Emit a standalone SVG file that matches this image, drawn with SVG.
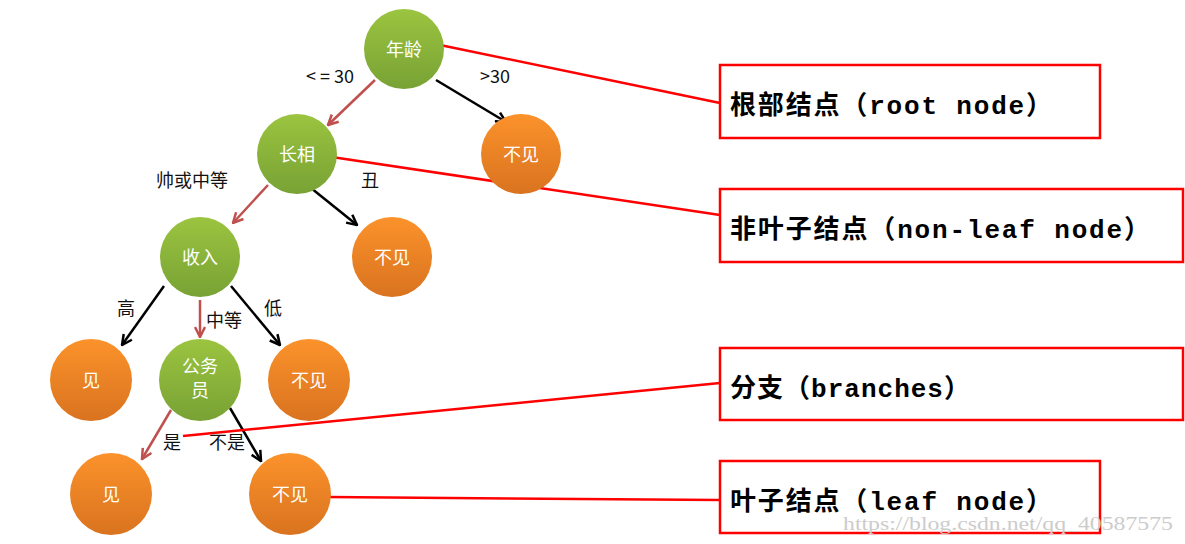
<svg xmlns="http://www.w3.org/2000/svg" width="1185" height="544" viewBox="0 0 1185 544">
<style>
.g{fill:url(#gg)}.o{fill:url(#og)}
.nt{font-family:"Noto Sans CJK SC",sans-serif;font-size:18px;fill:#fff;text-anchor:middle}
.lb{font-family:"Noto Sans CJK SC",sans-serif;font-size:18px;fill:#111;text-anchor:middle}
.bx{fill:#fff;stroke:#f00;stroke-width:2.5}
.bt{font-family:"Liberation Mono","Noto Sans CJK SC",monospace;font-size:26px;font-weight:bold;fill:#000}
.rl{stroke:#f00;stroke-width:2.5;fill:none}
.ar{stroke:#000;stroke-width:2.5;fill:none;marker-end:url(#mb)}
.ar2{stroke:#c0504d;stroke-width:2.5;fill:none;marker-end:url(#mr)}
</style>
<defs>
<linearGradient id="gg" x1="0" y1="0" x2="0" y2="1"><stop offset="0" stop-color="#9bc440"/><stop offset="1" stop-color="#78a234"/></linearGradient>
<linearGradient id="og" x1="0" y1="0" x2="0" y2="1"><stop offset="0" stop-color="#fb922b"/><stop offset="1" stop-color="#d9731f"/></linearGradient>
<marker id="mb" viewBox="0 0 10 10" refX="9" refY="5" markerWidth="5" markerHeight="5" orient="auto"><path d="M1,1L9,5L1,9" fill="none" stroke="#000" stroke-width="2"/></marker>
<marker id="mr" viewBox="0 0 10 10" refX="9" refY="5" markerWidth="5" markerHeight="5" orient="auto"><path d="M1,1L9,5L1,9" fill="none" stroke="#c0504d" stroke-width="2"/></marker>
</defs>
<g id="connectors">
<line class="ar2" x1="375" y1="80" x2="328" y2="125"/>
<line class="ar" x1="436" y1="80" x2="506" y2="122"/>
<line class="ar2" x1="268" y1="185" x2="233" y2="223"/>
<line class="ar" x1="306" y1="184" x2="357" y2="225"/>
<line class="ar" x1="164" y1="286" x2="122" y2="345"/>
<line class="ar2" x1="200" y1="300" x2="200" y2="337"/>
<line class="ar" x1="231" y1="286" x2="280" y2="345"/>
<line class="ar2" x1="171" y1="410" x2="142" y2="459"/>
<line class="ar" x1="230" y1="408" x2="261" y2="461"/>
<line class="rl" x1="440" y1="45" x2="720" y2="103"/>
<line class="rl" x1="325" y1="156" x2="720" y2="215"/>
<line class="rl" x1="183" y1="436" x2="720" y2="383"/>
<line class="rl" x1="328" y1="497" x2="720" y2="500"/>
</g>
<g class="lb">
<text x="330" y="83">&lt; = 30</text><text x="495" y="83">&gt;30</text>
<text x="192" y="187">帅或中等</text><text x="370" y="187">丑</text>
<text x="126" y="315">高</text><text x="224" y="327">中等</text><text x="273" y="315">低</text>
<text x="172" y="449">是</text><text x="227" y="449">不是</text>
</g>
<g id="n1"><circle class="g" cx="404" cy="49" r="40"/><text class="nt" x="404" y="56">年龄</text></g>
<g id="n2"><circle class="o" cx="521" cy="154" r="40"/><text class="nt" x="521" y="161">不见</text></g>
<g id="n3"><circle class="g" cx="297" cy="154" r="40"/><text class="nt" x="297" y="161">长相</text></g>
<g id="n4"><circle class="g" cx="200" cy="257" r="40"/><text class="nt" x="200" y="264">收入</text></g>
<g id="n5"><circle class="o" cx="392" cy="257" r="40"/><text class="nt" x="392" y="264">不见</text></g>
<g id="n6"><circle class="o" cx="91" cy="380" r="41"/><text class="nt" x="91" y="387">见</text></g>
<g id="n7"><circle class="g" cx="200" cy="380" r="41"/><text class="nt" x="200" y="373">公务</text><text class="nt" x="200" y="397">员</text></g>
<g id="n8"><circle class="o" cx="309" cy="380" r="41"/><text class="nt" x="309" y="387">不见</text></g>
<g id="n9"><circle class="o" cx="111" cy="494" r="41"/><text class="nt" x="111" y="501">见</text></g>
<g id="n10"><circle class="o" cx="290" cy="494" r="41"/><text class="nt" x="290" y="501">不见</text></g>
<g id="b1"><rect class="bx" x="720" y="65" width="380" height="73"/><text class="bt" x="730" y="114" textLength="322">根部结点（root node）</text></g>
<g id="b2"><rect class="bx" x="720" y="189" width="463" height="73"/><text class="bt" x="730" y="238" textLength="420">非叶子结点（non-leaf node）</text></g>
<g id="b3"><rect class="bx" x="720" y="348" width="463" height="72"/><text class="bt" x="730" y="397" textLength="240">分支（branches）</text></g>
<g id="b4"><rect class="bx" x="720" y="461" width="380" height="72"/><text class="bt" x="730" y="510" textLength="322">叶子结点（leaf node）</text></g>
<text x="843" y="530" font-family="Liberation Serif,serif" font-size="19" fill="#ccc" textLength="330" lengthAdjust="spacingAndGlyphs">https://blog.csdn.net/qq_40587575</text>
</svg>
